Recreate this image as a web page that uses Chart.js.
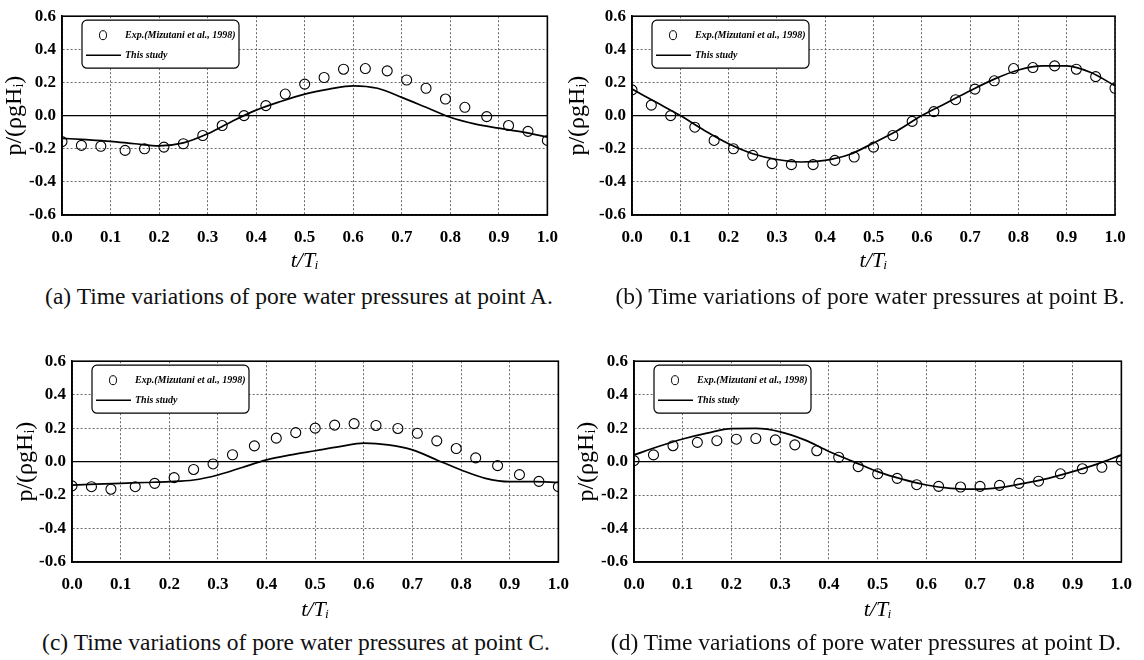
<!DOCTYPE html>
<html lang="en">
<head>
<meta charset="UTF-8">
<title>Pore water pressures</title>
<script src="https://cdn.jsdelivr.net/npm/chart.js"></script>
<style>
  body { margin: 0; background: #fff; width: 1144px; height: 660px; position: relative; overflow: hidden; }
  canvas { position: absolute; }
  .cap { position: absolute; width: 600px; font-family: 'Liberation Serif', serif; font-size: 23.5px; color: #111;
         text-align: center; white-space: nowrap; line-height: 28px; }
</style>
</head>
<body>
<canvas id="gA" width="570" height="280" style="left:0px;top:0px"></canvas>
<canvas id="gB" width="581" height="280" style="left:563px;top:0px"></canvas>
<canvas id="gC" width="570" height="280" style="left:11px;top:345px"></canvas>
<canvas id="gD" width="572" height="280" style="left:572px;top:345px"></canvas>

<div class="cap" style="left:-1px;top:282px">(a) Time variations of pore water pressures at point A.</div>
<div class="cap" style="left:570px;top:282px">(b) Time variations of pore water pressures at point B.</div>
<div class="cap" style="left:-4px;top:628px">(c) Time variations of pore water pressures at point C.</div>
<div class="cap" style="left:566px;top:628px">(d) Time variations of pore water pressures at point D.</div>

<script>
// measured points (circles), same time instants in every panel
const tExp = [0, 0.04, 0.08, 0.13, 0.17, 0.21, 0.25, 0.29, 0.33, 0.375, 0.42, 0.46, 0.5,
              0.54, 0.58, 0.625, 0.67, 0.71, 0.75, 0.79, 0.83, 0.875, 0.92, 0.96, 1.0]
const expA = [-0.157, -0.18, -0.185, -0.21, -0.20, -0.19, -0.17, -0.12, -0.06, 0.0, 0.06, 0.13, 0.19,
              0.23, 0.28, 0.284, 0.27, 0.215, 0.165, 0.10, 0.05, -0.006, -0.06, -0.095, -0.15]
const expB = [0.155, 0.063, 0.0, -0.07, -0.15, -0.20, -0.24, -0.29, -0.296, -0.296, -0.27, -0.25, -0.19,
              -0.12, -0.035, 0.024, 0.096, 0.16, 0.21, 0.284, 0.29, 0.30, 0.28, 0.235, 0.165]
const expC = [-0.145, -0.15, -0.165, -0.15, -0.13, -0.096, -0.047, -0.014, 0.041, 0.094, 0.14, 0.173, 0.20,
              0.218, 0.227, 0.216, 0.198, 0.169, 0.124, 0.078, 0.022, -0.024, -0.078, -0.118, -0.15]
const expD = [0.006, 0.04, 0.095, 0.115, 0.125, 0.134, 0.138, 0.13, 0.10, 0.065, 0.026, -0.03, -0.073,
              -0.10, -0.138, -0.148, -0.152, -0.148, -0.142, -0.13, -0.117, -0.073, -0.043, -0.034, 0.006]

// computed curves ("This study")
const tCalc = [0, 0.05, 0.1, 0.15, 0.2, 0.25, 0.3, 0.35, 0.4, 0.45, 0.5,
               0.55, 0.6, 0.65, 0.7, 0.75, 0.8, 0.85, 0.9, 0.95, 1.0]
const calcA = [-0.137, -0.145, -0.155, -0.17, -0.183, -0.165, -0.11, -0.035, 0.033, 0.085, 0.13,
               0.16, 0.18, 0.165, 0.11, 0.05, -0.01, -0.05, -0.076, -0.10, -0.13]
const calcB = [0.16, 0.08, 0.0, -0.09, -0.17, -0.23, -0.265, -0.28, -0.27, -0.235, -0.165,
               -0.09, 0.0, 0.075, 0.15, 0.22, 0.275, 0.30, 0.30, 0.26, 0.18]
const calcC = [-0.14, -0.135, -0.13, -0.125, -0.12, -0.11, -0.08, -0.035, 0.01, 0.04, 0.065,
               0.09, 0.11, 0.10, 0.07, 0.01, -0.05, -0.10, -0.12, -0.12, -0.125]
const calcD = [0.04, 0.09, 0.135, 0.17, 0.197, 0.198, 0.178, 0.13, 0.06, 0.0, -0.06,
               -0.105, -0.14, -0.16, -0.165, -0.155, -0.13, -0.10, -0.06, -0.015, 0.04]

const expLabel = 'Exp.(Mizutani et al., 1998)'
const calcLabel = 'This study'
const serif = "'Liberation Serif', 'DejaVu Serif', serif"

const fmt = v => Math.abs(v) < 1e-9 ? '0.0' : v.toFixed(1)
const isZero = c => c.tick && Math.abs(c.tick.value) < 1e-9

// frame around the plot + boxed legend in the upper left corner
const figPlugin = {
  id: 'fig',
  beforeDatasetsDraw(chart) {
    const {ctx, chartArea: a} = chart
    ctx.save()
    ctx.strokeStyle = '#000'
    ctx.lineWidth = 1.6
    ctx.strokeRect(a.left, a.top, a.right - a.left, a.bottom - a.top)
    ctx.restore()
  },
  afterDraw(chart) {
    const {ctx, chartArea: a} = chart
    const x = a.left + 20, y = a.top + 4, w = 157, h = 48
    ctx.save()
    ctx.fillStyle = '#fff'
    ctx.strokeStyle = '#000'
    ctx.lineWidth = 1.2
    ctx.beginPath()
    ctx.roundRect(x, y, w, h, 5)
    ctx.fill()
    ctx.stroke()
    ctx.lineWidth = 1
    ctx.beginPath()
    ctx.ellipse(x + 21, y + 15, 3.5, 4.5, 0, 0, Math.PI * 2)
    ctx.stroke()
    ctx.lineWidth = 1.5
    ctx.beginPath()
    ctx.moveTo(x + 4, y + 35)
    ctx.lineTo(x + 39, y + 35)
    ctx.stroke()
    ctx.fillStyle = '#000'
    ctx.font = 'italic bold 10px ' + serif
    ctx.textBaseline = 'middle'
    ctx.fillText(chart.data.datasets[0].label, x + 43, y + 15)
    ctx.fillText(chart.data.datasets[1].label, x + 43, y + 35)
    ctx.restore()
  }
}

function makePanel(id, exp, calc, g) {
  // g: plot box inside the canvas (left, right, bottom) and x title centre
  const cv = document.getElementById(id)
  return new Chart(cv, {
    type: 'line',
    data: {
      datasets: [
        {
          label: expLabel,
          data: tExp.map((t, i) => ({x: t, y: exp[i]})),
          showLine: false,
          pointStyle: 'circle',
          pointRadius: 5,
          pointBorderWidth: 1.1,
          pointBorderColor: '#000',
          pointBackgroundColor: 'rgba(0,0,0,0)'
        },
        {
          label: calcLabel,
          data: tCalc.map((t, i) => ({x: t, y: calc[i]})),
          borderColor: '#000',
          borderWidth: 1.7,
          pointRadius: 0,
          cubicInterpolationMode: 'monotone',
          fill: false
        }
      ]
    },
    options: {
      responsive: false,
      animation: false,
      events: [],
      layout: { padding: { top: 12, left: 0, right: cv.width - g.right, bottom: 0 } },
      plugins: { legend: { display: false }, tooltip: { enabled: false } },
      scales: {
        x: {
          type: 'linear', min: 0, max: 1,
          afterFit: s => { s.height = cv.height - g.bottom },
          ticks: { stepSize: 0.1, autoSkip: false, maxRotation: 0, padding: 12, color: '#000',
                   font: { family: serif, size: 17, weight: 'bold' }, callback: v => fmt(v) },
          grid: { color: '#6a6a6a', lineWidth: 1, drawTicks: false },
          border: { color: '#000', width: 1.6, dash: [2, 2] },
          title: { display: true, text: 't/Tᵢ', color: '#000',
                   font: { family: serif, size: 22, style: 'italic' },
                   padding: { top: 0, bottom: cv.height - 12 - g.titleY } }
        },
        y: {
          min: -0.6, max: 0.6,
          afterFit: s => { s.width = g.left },
          ticks: { stepSize: 0.1, padding: 6, color: '#000',
                   font: { family: serif, size: 17, weight: 'bold' },
                   callback: v => (Math.round(v * 10) % 2 === 0 ? fmt(v) : '') },
          grid: {
            color: c => isZero(c) ? '#000' : '#6a6a6a',
            lineWidth: c => isZero(c) ? 1.3 : 1,
            drawTicks: false
          },
          border: { color: '#000', width: 1.6, dash: c => (!c.tick || isZero(c)) ? [] : [2, 2] },
          title: { display: true, text: 'p/(ρgHᵢ)', color: '#000',
                   font: { family: serif, size: 24 }, padding: { top: 0, bottom: 0 } }
        }
      }
    },
    plugins: [figPlugin]
  })
}

makePanel('gA', expA, calcA, { left: 62, right: 551, bottom: 215, titleY: 262 })
makePanel('gB', expB, calcB, { left: 69, right: 552, bottom: 215, titleY: 262 })
makePanel('gC', expC, calcC, { left: 61, right: 548, bottom: 217, titleY: 266 })
makePanel('gD', expD, calcD, { left: 62, right: 550, bottom: 217, titleY: 266 })
</script>
</body>
</html>
